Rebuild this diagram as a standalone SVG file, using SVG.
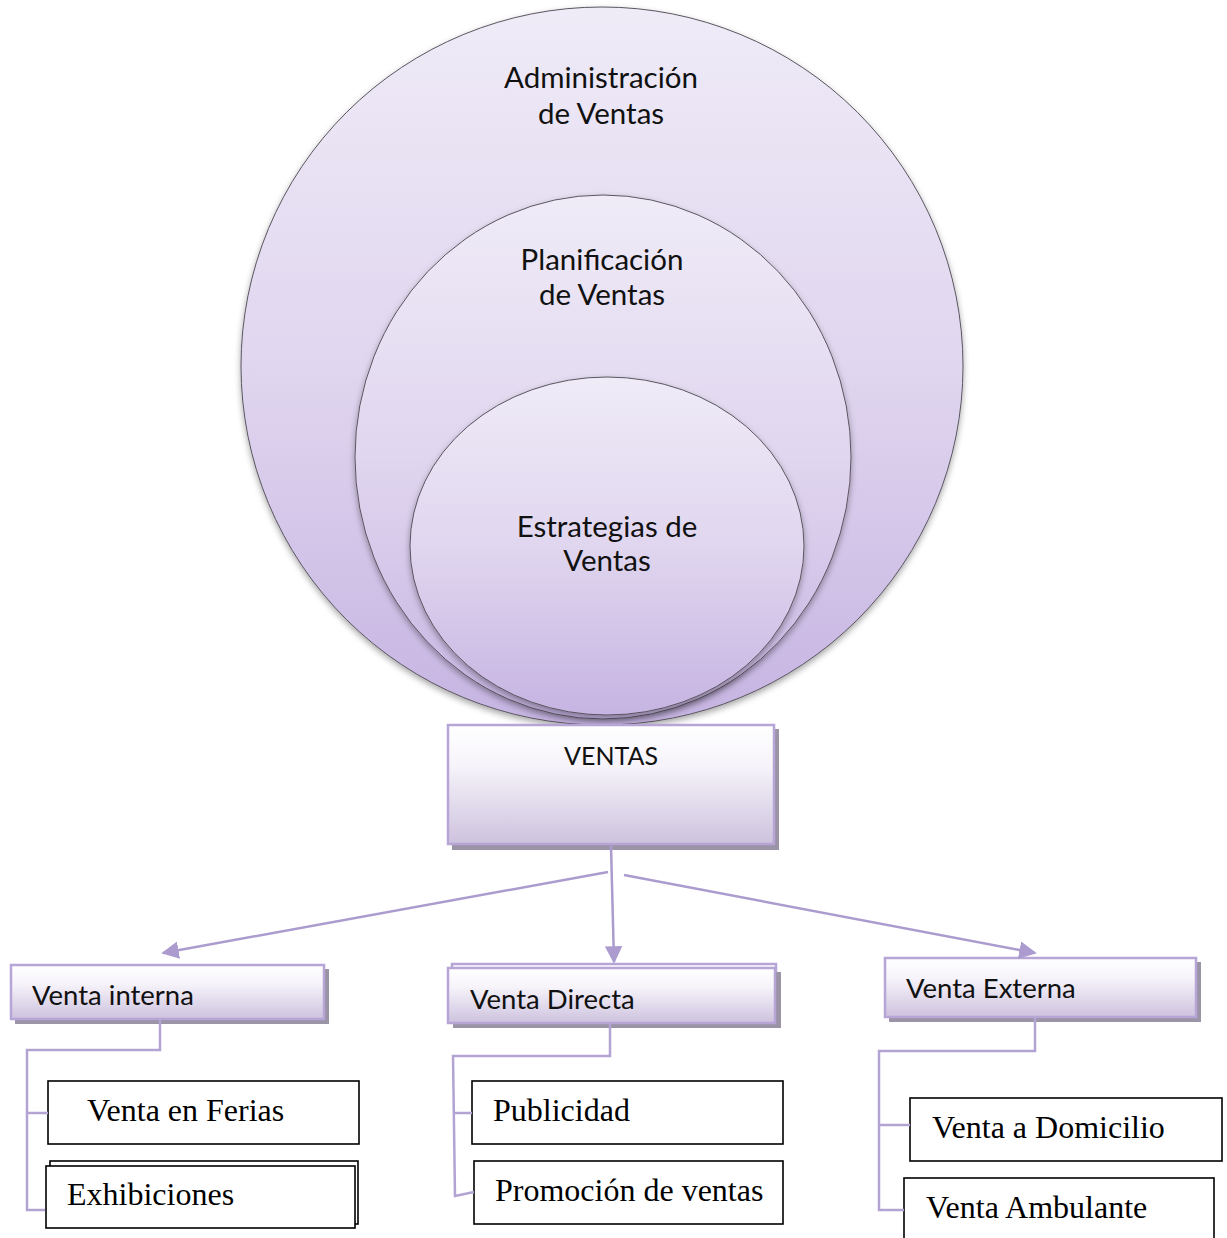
<svg xmlns="http://www.w3.org/2000/svg" width="1227" height="1238" viewBox="0 0 1227 1238">
  <style>
    .circ { stroke: #5a5560; stroke-width: 1; }
    .ctext { font-family: Lato, "Open Sans", sans-serif; font-size: 29.5px; fill: #111; text-anchor: middle; }
    .btext { font-family: Lato, "Open Sans", sans-serif; font-size: 27.5px; fill: #111; }
    .title { font-family: Lato, "Open Sans", sans-serif; font-size: 25px; fill: #111; text-anchor: middle; }
    .box { fill: url(#boxGrad); stroke: #b7a5d6; stroke-width: 2.5; }
    .shadow { fill: #9b93a6; }
    .leaf { fill: #fff; stroke: #000; stroke-width: 1.6; }
    .ltext { font-family: "Liberation Serif", "Times New Roman", serif; font-size: 32px; fill: #000; }
    .wire { fill: none; stroke: #b3a3d3; stroke-width: 2.5; }
    .arrow { fill: none; stroke: #ab9bcf; stroke-width: 2.5; }
  </style>
  <defs>
    <linearGradient id="circGrad" x1="0" y1="0" x2="0" y2="1">
      <stop offset="0" stop-color="#efebf7"/>
      <stop offset="0.5" stop-color="#e0d6ef"/>
      <stop offset="1" stop-color="#c6b4e2"/>
    </linearGradient>
    <linearGradient id="boxGrad" x1="0" y1="0" x2="0" y2="1">
      <stop offset="0" stop-color="#ffffff"/>
      <stop offset="0.35" stop-color="#f6f3fa"/>
      <stop offset="1" stop-color="#cdc2de"/>
    </linearGradient>
    <filter id="soft" x="-10%" y="-10%" width="120%" height="120%">
      <feDropShadow dx="0" dy="3" stdDeviation="3" flood-color="#000" flood-opacity="0.35"/>
    </filter>
    <marker id="head" viewBox="0 0 10 10" refX="9" refY="5" markerWidth="7" markerHeight="7" orient="auto" markerUnits="strokeWidth">
      <path d="M0,0 L10,5 L0,10 z" fill="#ab9bcf"/>
    </marker>
  </defs>

  <!-- nested circles -->
  <g id="admin">
    <ellipse class="circ" cx="602" cy="366" rx="361" ry="359" fill="url(#circGrad)" filter="url(#soft)"/>
    <text class="ctext" x="601" y="88">Administración</text>
    <text class="ctext" x="601" y="124">de Ventas</text>
  </g>
  <g id="planificacion">
    <ellipse class="circ" cx="603" cy="457" rx="248" ry="262" fill="url(#circGrad)" filter="url(#soft)"/>
    <text class="ctext" x="602" y="270">Planificación</text>
    <text class="ctext" x="602" y="305">de Ventas</text>
  </g>
  <g id="estrategias">
    <ellipse class="circ" cx="607" cy="546" rx="197" ry="169" fill="url(#circGrad)" filter="url(#soft)"/>
    <text class="ctext" x="607" y="537">Estrategias de</text>
    <text class="ctext" x="607" y="571">Ventas</text>
  </g>

  <!-- central box -->
  <g id="ventas">
    <rect class="shadow" x="452" y="729" width="327" height="121"/>
    <rect class="box" x="448" y="725" width="326" height="119"/>
    <text class="title" x="611" y="765">VENTAS</text>
  </g>

  <!-- category boxes -->
  <g id="venta-interna">
    <rect class="shadow" x="15" y="969" width="314" height="55"/>
    <rect class="box" x="11" y="965" width="313" height="54"/>
    <text class="btext" x="32" y="1005">Venta interna</text>
  </g>
  <g id="venta-directa">
    <rect class="box" x="452" y="964" width="324" height="54"/>
    <rect class="shadow" x="453" y="972" width="328" height="56"/>
    <rect class="box" x="448" y="968" width="327" height="55"/>
    <text class="btext" x="470" y="1009">Venta Directa</text>
  </g>
  <g id="venta-externa">
    <rect class="shadow" x="889" y="962" width="312" height="60"/>
    <rect class="box" x="885" y="958" width="311" height="59"/>
    <text class="btext" x="906" y="998">Venta Externa</text>
  </g>

  <!-- leaf boxes -->
  <g id="venta-ferias">
    <rect class="leaf" x="48" y="1081" width="311" height="63"/>
    <text class="ltext" x="87" y="1121">Venta en Ferias</text>
  </g>
  <g id="exhibiciones">
    <rect class="leaf" x="50" y="1161" width="308" height="63"/>
    <rect class="leaf" x="46" y="1166" width="309" height="62"/>
    <text class="ltext" x="67" y="1205">Exhibiciones</text>
  </g>
  <g id="publicidad">
    <rect class="leaf" x="472" y="1081" width="311" height="63"/>
    <text class="ltext" x="493" y="1121">Publicidad</text>
  </g>
  <g id="promocion">
    <rect class="leaf" x="474" y="1161" width="309" height="63"/>
    <text class="ltext" x="495" y="1201">Promoción de ventas</text>
  </g>
  <g id="venta-domicilio">
    <rect class="leaf" x="910" y="1098" width="312" height="63"/>
    <text class="ltext" x="932" y="1138">Venta a Domicilio</text>
  </g>
  <g id="venta-ambulante">
    <rect class="leaf" x="904" y="1178" width="310" height="64"/>
    <text class="ltext" x="926" y="1218">Venta Ambulante</text>
  </g>

  <!-- connectors -->
  <g id="connectors">
    <line class="arrow" x1="611" y1="846" x2="614" y2="962" marker-end="url(#head)"/>
    <line class="arrow" x1="608" y1="872" x2="163" y2="953" marker-end="url(#head)"/>
    <line class="arrow" x1="624" y1="875" x2="1035" y2="953" marker-end="url(#head)"/>

    <path class="wire" d="M160,1020 V1050 H27 V1210 H45 M27,1113 H48"/>
    <path class="wire" d="M610,1024 V1056 H453 L455,1196 L474,1192 M454,1113 H472"/>
    <path class="wire" d="M1035,1018 V1051 H879 V1210 H904 M879,1125 H910"/>
  </g>
</svg>
